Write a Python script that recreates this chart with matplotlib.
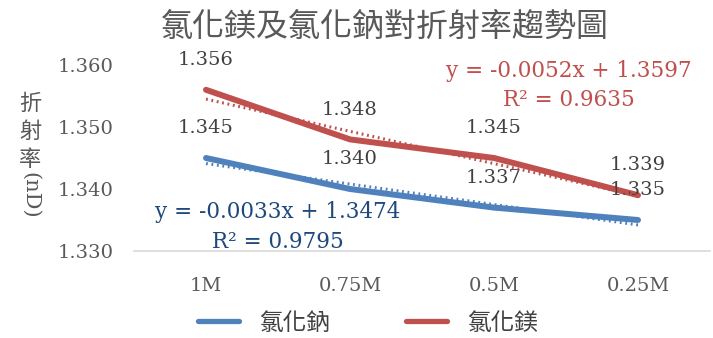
import matplotlib
matplotlib.use('Agg')
import matplotlib.pyplot as plt
import numpy as np

plt.rcParams['font.family'] = ['DejaVu Serif', 'Noto Sans CJK TC']

# concentrations and measured refractive index
categories = ['1M', '0.75M', '0.5M', '0.25M']
nacl = [1.345, 1.340, 1.337, 1.335]
mgcl2 = [1.356, 1.348, 1.345, 1.339]
nacl_fit = (-0.0033, 1.3474, 0.9795)
mgcl2_fit = (-0.0052, 1.3597, 0.9635)

blue = '#4F81BD'
red = '#C0504D'
num_font = ['DejaVu Serif', 'Noto Sans CJK TC']
cjk_font = ['Noto Sans CJK TC', 'DejaVu Sans']

fig = plt.figure(figsize=(7.13, 3.38), dpi=100)
ax = fig.add_axes([134/713, 1-251/338, (710-134)/713, (251-65)/338])

x = np.arange(1, len(categories)+1)
ax.plot(x, nacl, color=blue, lw=4.3, solid_capstyle='round', label='氯化鈉', zorder=3)
ax.plot(x, mgcl2, color=red, lw=4.3, solid_capstyle='round', label='氯化鎂', zorder=3)

# linear trendlines from the fitted coefficients
for (m, b, r2), c in [(nacl_fit, blue), (mgcl2_fit, red)]:
    ax.plot(x, m*x + b, color=c, lw=2.2, ls=(0, (0.6, 1.2)), zorder=4)

for xi, v in zip(x, nacl):
    ax.annotate(f'{v:.3f}', (xi, v), xytext=(0, 21.5), textcoords='offset points',
                ha='center', va='center', fontsize=14, color='#404040', family=num_font)
for xi, v in zip(x, mgcl2):
    ax.annotate(f'{v:.3f}', (xi, v), xytext=(0, 21.5), textcoords='offset points',
                ha='center', va='center', fontsize=14, color='#404040', family=num_font)

ax.set_xlim(0.5, 4.5)
ax.set_ylim(1.330, 1.360)
ax.set_yticks([1.330, 1.340, 1.350, 1.360])
ax.set_yticklabels(['1.330', '1.340', '1.350', '1.360'])
ax.set_xticks(x)
ax.set_xticklabels(categories)
for lab in ax.get_xticklabels() + ax.get_yticklabels():
    lab.set_family(num_font)
    lab.set_fontsize(14)
    lab.set_color('#595959')
ax.tick_params(axis='y', length=0, pad=15)
ax.tick_params(axis='x', length=0, pad=19)
for s in ['top', 'right', 'left']:
    ax.spines[s].set_visible(False)
ax.spines['bottom'].set_color('#D9D9D9')
ax.spines['bottom'].set_linewidth(1.2)

fig.text(385/713, 1-27/338, '氯化鎂及氯化鈉對折射率趨勢圖', ha='center', va='center',
         fontsize=23, color='#595959', family=cjk_font, fontweight='light')

# equations of the trendlines
fig.text(569/713, 1-71/338, 'y = -0.0052x + 1.3597', ha='center', va='center',
         fontsize=15.5, color=red, family=num_font)
fig.text(569/713, 1-100/338, 'R² = 0.9635', ha='center', va='center',
         fontsize=15.5, color=red, family=num_font)
fig.text(278/713, 1-212/338, 'y = -0.0033x + 1.3474', ha='center', va='center',
         fontsize=15.5, color='#1F497D', family=num_font)
fig.text(278/713, 1-242/338, 'R² = 0.9795', ha='center', va='center',
         fontsize=15.5, color='#1F497D', family=num_font)

# stacked axis title
for i, ch in enumerate('折射率'):
    fig.text(30/713, 1-(103+28*i)/338, ch, ha='center', va='center',
             fontsize=16, color='#595959', family=cjk_font)
fig.text(30/713, 1-195/338, '(nD)', ha='center', va='center', rotation=-90,
         fontsize=15, color='#595959', family=num_font)

leg = fig.legend(loc='center', bbox_to_anchor=(368/713, 1-323/338), ncol=2, frameon=False,
                 prop={'family': cjk_font, 'size': 17}, handlelength=1.74,
                 columnspacing=3.2, handletextpad=0.85)
for t in leg.get_texts():
    t.set_color('#404040')
for h in leg.get_lines():
    h.set_linewidth(3.8)

fig.savefig('out.png', dpi=100)
